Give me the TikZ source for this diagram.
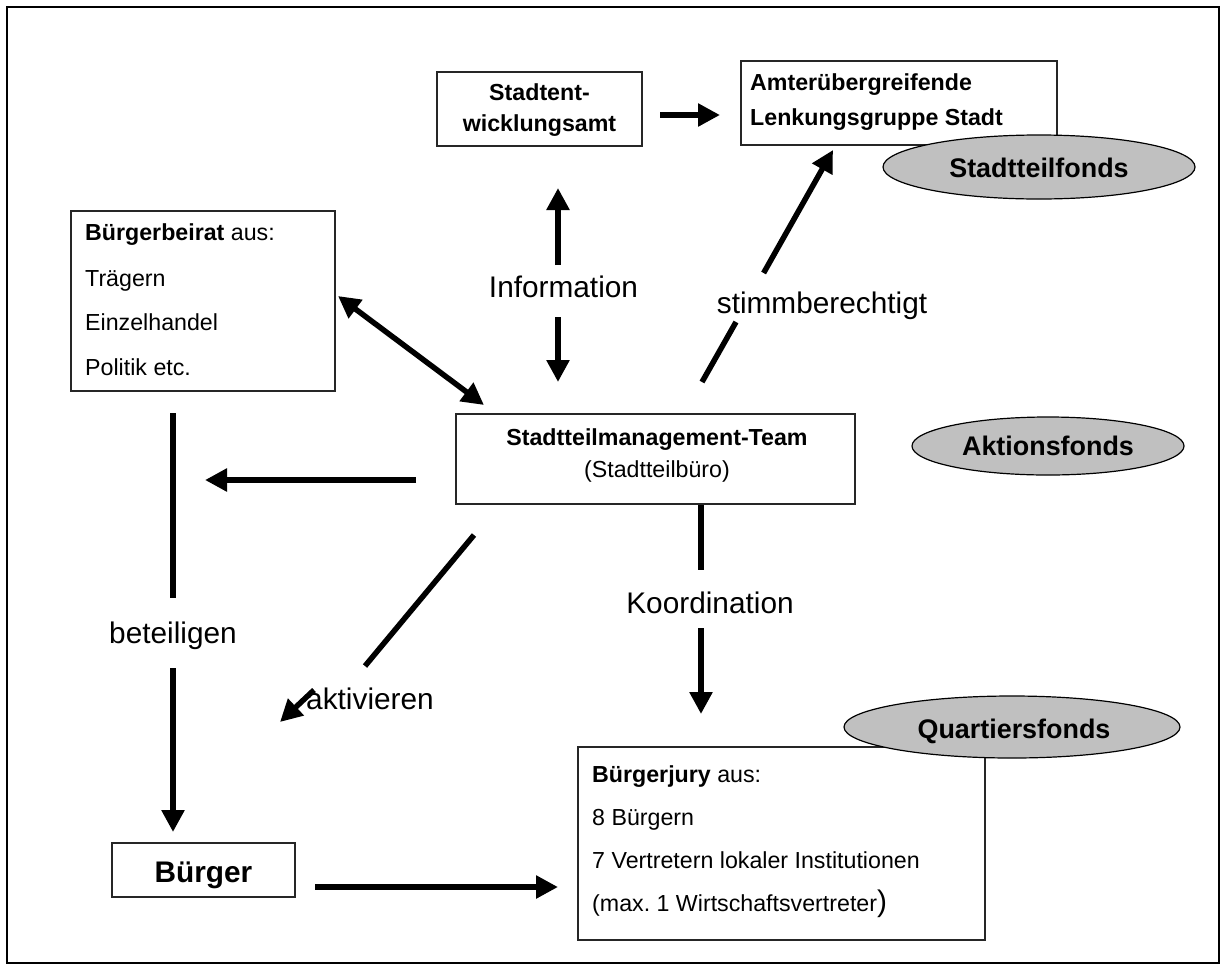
\documentclass[tikz,border=0pt]{standalone}
\usepackage{fontspec}
\setmainfont{Liberation Sans}
\usetikzlibrary{arrows.meta,shapes.geometric}
\definecolor{fundgray}{HTML}{C0C0C0}

\begin{document}
\begin{tikzpicture}[x=1pt,y=-1pt,
  box/.style={draw=black!85, line width=1.3pt, fill=white, rectangle, inner sep=0pt},
  fund/.style={draw=black, line width=1.2pt, fill=fundgray, ellipse, inner sep=0pt},
  tip/.tip={Triangle[length=22pt,width=22pt]},
  flow/.style={line width=5.5pt, -tip},
  flowline/.style={line width=5.5pt},
  twoway/.style={line width=5.5pt, tip-tip},
  tx/.style={font=\fontsize{23.2}{27}\selectfont, inner sep=0pt},
  txb/.style={font=\fontsize{23.2}{27}\selectfont\bfseries, inner sep=0pt},
  fundtx/.style={font=\fontsize{26.9}{30}\selectfont\bfseries, inner sep=0pt, anchor=base},
  lbl/.style={font=\fontsize{29.8}{34}\selectfont, inner sep=0pt, anchor=base},
]
\useasboundingbox (0,0) rectangle (1226,970);
\draw[line width=1.5pt] (7,7) rectangle (1219,963);

% boxes
\node[box, minimum width=205pt, minimum height=74pt] (sea) at (539.5,109) {};
\node[txb, anchor=base] (seaA) at (539.5,100) {Stadtent-};
\node[txb, anchor=base] (seaB) at (539.5,131) {wicklungsamt};

\node[box, minimum width=316pt, minimum height=84pt] (alg) at (899,103) {};
\node[txb, anchor=base west] (algA) at (750,90) {Amterübergreifende};
\node[txb, anchor=base west] (algB) at (750,125) {Lenkungsgruppe Stadt};

\node[box, minimum width=264pt, minimum height=180pt] (bb) at (203,301) {};
\node[tx, anchor=base west] (bbA) at (85,240) {\textbf{Bürgerbeirat} aus:};
\node[tx, anchor=base west] (bbB) at (85,286) {Trägern};
\node[tx, anchor=base west] (bbC) at (85,330) {Einzelhandel};
\node[tx, anchor=base west] (bbD) at (85,375) {Politik etc.};

\node[box, minimum width=399pt, minimum height=90pt] (stm) at (655.5,459) {};
\node[txb, anchor=base] (stmA) at (657,445) {Stadtteilmanagement-Team};
\node[tx, anchor=base] (stmB) at (657,477) {(Stadtteilbüro)};

\node[box, minimum width=407pt, minimum height=193pt] (bj) at (781.5,843.5) {};
\node[tx, anchor=base west] (bjA) at (592,782) {\textbf{Bürgerjury} aus:};
\node[tx, anchor=base west] (bjB) at (592,825) {8 Bürgern};
\node[tx, anchor=base west] (bjC) at (592,868) {7 Vertretern lokaler Institutionen};
\node[tx, anchor=base west] (bjD) at (592,911) {(max.~1 Wirtschaftsvertreter{\fontsize{29.8}{34}\selectfont)}};

\node[box, minimum width=183pt, minimum height=54pt] (bu) at (203.5,870) {};
\node[font=\fontsize{29.8}{34}\selectfont\bfseries, inner sep=0pt, anchor=base] (buA) at (203.5,882) {Bürger};

% funds
\node[fund, minimum width=312pt, minimum height=64pt] (stf) at (1039,167) {};
\node[fundtx] (stfA) at (1039,177) {Stadtteilfonds};
\node[fund, minimum width=272pt, minimum height=58pt] (akf) at (1048,446) {};
\node[fundtx] (akfA) at (1048,455) {Aktionsfonds};
\node[fund, minimum width=336pt, minimum height=62pt] (qf) at (1012,727) {};
\node[fundtx] (qfA) at (1014,738) {Quartiersfonds};

% connector ends
\coordinate (p1) at (660,115);   \coordinate (p2) at (720,115);
\coordinate (i1) at (558,265);   \coordinate (i2) at (558,188);
\coordinate (i3) at (558,317);   \coordinate (i4) at (558,382);
\coordinate (s1) at (702,382);   \coordinate (s2) at (736,322);
\coordinate (s3) at (763.6,273); \coordinate (s4) at (833,150);
\coordinate (d1) at (338,296);   \coordinate (d2) at (484,405);
\coordinate (h1) at (416,480);   \coordinate (h2) at (205,480);
\coordinate (b1) at (173,413);   \coordinate (b2) at (173,598);
\coordinate (b3) at (173,668);   \coordinate (b4) at (173,832);
\coordinate (a1) at (474,535);   \coordinate (a2) at (365,666);
\coordinate (a3) at (314,690);   \coordinate (a4) at (280,722);
\coordinate (k1) at (701,505);   \coordinate (k2) at (701,570);
\coordinate (k3) at (701,628);   \coordinate (k4) at (701,714);
\coordinate (u1) at (315,887);   \coordinate (u2) at (558,887);

% connectors
\draw[flow] (p1) -- (p2);
\draw[flow] (i1) -- (i2);
\draw[flow] (i3) -- (i4);
\draw[flowline] (s1) -- (s2);
\draw[flow] (s3) -- (s4);
\draw[twoway] (d1) -- (d2);
\draw[flow] (h1) -- (h2);
\draw[flowline] (b1) -- (b2);
\draw[flow] (b3) -- (b4);
\draw[flowline] (a1) -- (a2);
\draw[flow] (a3) -- (a4);
\draw[flowline] (k1) -- (k2);
\draw[flow] (k3) -- (k4);
\draw[flow] (u1) -- (u2);

% labels
\node[lbl] (lInfo) at (563.5,297) {Information};
\node[lbl] (lStimm) at (822,313) {stimmberechtigt};
\node[lbl] (lBet) at (173,643) {beteiligen};
\node[lbl] (lAkt) at (370,709) {aktivieren};
\node[lbl] (lKoord) at (710,613) {Koordination};
\end{tikzpicture}
\end{document}
